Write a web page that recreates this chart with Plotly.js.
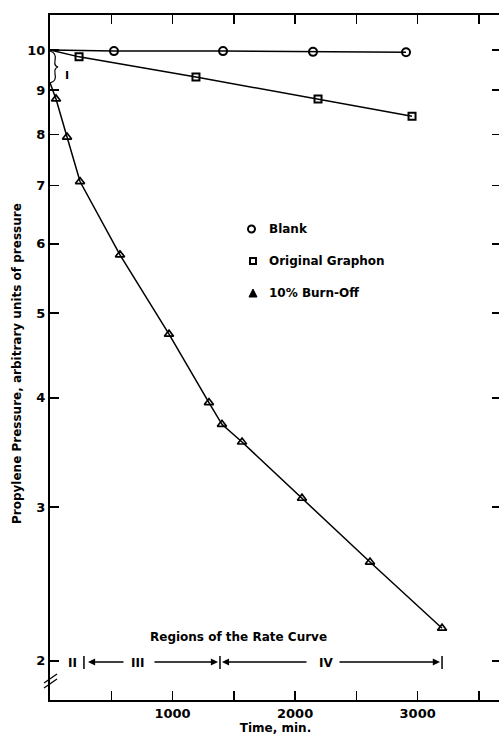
<!DOCTYPE html>
<html>
<head>
<meta charset="utf-8">
<script src="https://cdn.plot.ly/plotly-3.0.1.min.js"></script>
<style>
html,body{margin:0;padding:0;overflow:hidden;background:#fff;}
#chart{width:502px;height:737px;}
</style>
</head>
<body>
<div id="chart"></div>
<script>
// ---- data (time in min, pressure in arbitrary units) ----
const blankTime = [0, 522, 1412, 2146, 2905];
const blankPressure = [10, 9.97, 9.97, 9.95, 9.94];

const graphonTime = [0, 237, 1191, 2187, 2954];
const graphonPressure = [10, 9.82, 9.31, 8.79, 8.40];

const burnTime = [0, 49, 139, 245, 571, 971, 1297, 1403, 1567, 2056, 2611, 3199];
const burnPressure = [9.17, 8.79, 7.95, 7.07, 5.83, 4.73, 3.95, 3.73, 3.56, 3.07, 2.595, 2.18];

const yTickVals = [2, 3, 4, 5, 6, 7, 8, 9, 10];
const xTickVals = [500, 1000, 1500, 2000, 2500, 3000, 3500];
const xTickText = ['', '1000', '', '2000', '', '3000', ''];

const seriesNames = ['Blank', 'Original Graphon', '10% Burn-Off'];

// regions of the rate curve (time, min)
const regionLabels = ['II', 'III', 'IV'];
const regionLabelTime = [180, 718, 2252];
const regionBounds = [277, 1387, 3199];

// ---- layout helpers (pixel -> paper) ----
const L = 50, T = 15, W = 451, H = 685;
const px = x => (x - L) / W;
const py = y => (T + H - y) / H;

const FONT = {family: 'DejaVu Sans, Arial, sans-serif', size: 12, color: '#000', weight: 'bold'};
const TICKFONT = {...FONT, size: 13};
const lineStyle = {color: '#000', width: 1.5};

const traces = [
  {x: blankTime, y: blankPressure, name: seriesNames[0], mode: 'lines+markers',
   line: lineStyle, marker: {symbol: 'circle-open', size: 8, color: '#000', line: {width: 2}}, showlegend: false},
  {x: graphonTime, y: graphonPressure, name: seriesNames[1], mode: 'lines+markers',
   line: lineStyle, marker: {symbol: 'square-open', size: 7, color: '#000', line: {width: 2}}, showlegend: false},
  {x: burnTime, y: burnPressure, name: seriesNames[2], mode: 'lines+markers',
   line: lineStyle, marker: {symbol: 'triangle-up-open', size: 8, color: '#000', line: {width: 1.7}}, showlegend: false}
];
// hide markers at the t=0 starting points
traces.forEach(t => {
  t.marker.opacity = t.x.map((v, i) => i === 0 ? 0 : 1);
});

const annotations = [];
const shapes = [];

// legend built from text
const legendRows = [229, 261, 293];
seriesNames.forEach((n, i) => {
  annotations.push({xref: 'paper', yref: 'paper', x: px(267), y: py(legendRows[i]), xanchor: 'left', yanchor: 'middle',
    text: n, showarrow: false, font: FONT});
});
// legend markers
shapes.push({type: 'circle', xref: 'paper', yref: 'paper', x0: px(248), x1: px(255), y0: py(232.5), y1: py(225.5), line: {color: '#000', width: 2}});
shapes.push({type: 'rect', xref: 'paper', yref: 'paper', x0: px(250), x1: px(256), y0: py(264), y1: py(258), line: {color: '#000', width: 2}});
shapes.push({type: 'path', xref: 'paper', yref: 'paper',
  path: `M ${px(249)} ${py(297)} L ${px(257)} ${py(297)} L ${px(253)} ${py(289)} Z`, fillcolor: '#000', line: {color: '#000', width: 1}});

// y-axis title placed as annotation
annotations.push({xref: 'paper', yref: 'paper', x: px(17), y: py(364), text: 'Propylene Pressure, arbitrary units of pressure',
  textangle: -90, showarrow: false, font: FONT, xanchor: 'center', yanchor: 'middle'});

// Regions of the rate curve
annotations.push({xref: 'paper', yref: 'paper', x: px(238), y: py(637), text: 'Regions of the Rate Curve',
  showarrow: false, font: FONT, xanchor: 'center', yanchor: 'middle'});
regionLabels.forEach((r, i) => {
  annotations.push({xref: 'x', yref: 'paper', x: regionLabelTime[i], y: py(663), text: r, showarrow: false,
    font: FONT, xanchor: 'center', yanchor: 'middle'});
});
const arrowY = py(662);
const arrowSpecs = [[310, 612], [1371, 840], [1403, 2105], [3182, 2350]];
arrowSpecs.forEach(([head, tail]) => {
  annotations.push({xref: 'x', yref: 'paper', x: head, y: arrowY, axref: 'x', ax: tail, ayref: 'pixel', ay: 0,
    text: '', showarrow: true, arrowhead: 2, arrowsize: 1.1, arrowwidth: 1.3, arrowcolor: '#000', standoff: 0});
});
regionBounds.forEach(b => {
  shapes.push({type: 'line', xref: 'x', yref: 'paper', x0: b, x1: b, y0: py(656), y1: py(669), line: {color: '#000', width: 1.5}});
});

// Region I bracket near the start
shapes.push({type: 'path', xref: 'paper', yref: 'paper',
  path: `M ${px(50)} ${py(51)} Q ${px(57)} ${py(53)} ${px(55)} ${py(61)} Q ${px(54)} ${py(66)} ${px(58)} ${py(67)} Q ${px(54)} ${py(68)} ${px(55)} ${py(74)} Q ${px(57)} ${py(81)} ${px(50)} ${py(83)}`,
  line: {color: '#000', width: 1.2}});
annotations.push({xref: 'paper', yref: 'paper', x: px(63), y: py(67), text: 'I', showarrow: false, font: {...FONT, size: 11}});

// axis break mark
shapes.push({type: 'line', xref: 'paper', yref: 'paper', x0: px(44), y0: py(683), x1: px(57), y1: py(674), line: {color: '#000', width: 1.3}});
shapes.push({type: 'line', xref: 'paper', yref: 'paper', x0: px(44), y0: py(688), x1: px(57), y1: py(679), line: {color: '#000', width: 1.3}});

const layout = {
  width: 502, height: 737,
  margin: {l: L, r: 502 - L - W, t: T, b: 737 - T - H},
  paper_bgcolor: '#fff', plot_bgcolor: '#fff',
  font: FONT,
  showlegend: false,
  xaxis: {
    range: [0, 3680], tickmode: 'array', tickvals: xTickVals, ticktext: xTickText,
    ticks: 'inside', ticklen: 9, tickwidth: 1.5, tickcolor: '#000',
    showline: true, linecolor: '#000', linewidth: 2, mirror: 'ticks',
    showgrid: false, zeroline: false, tickfont: TICKFONT,
    title: {text: 'Time, min.', font: FONT, standoff: 3}
  },
  yaxis: {
    type: 'log', range: [0.2563, 1.04], tickmode: 'array', tickvals: yTickVals, ticktext: yTickVals.map(String),
    ticks: 'inside', ticklen: 9, tickwidth: 1.5, tickcolor: '#000',
    showline: true, linecolor: '#000', linewidth: 2, mirror: 'ticks',
    showgrid: false, zeroline: false, tickfont: TICKFONT
  },
  annotations: annotations,
  shapes: shapes
};

Plotly.newPlot('chart', traces, layout, {displayModeBar: false, staticPlot: true});
</script>
</body>
</html>
